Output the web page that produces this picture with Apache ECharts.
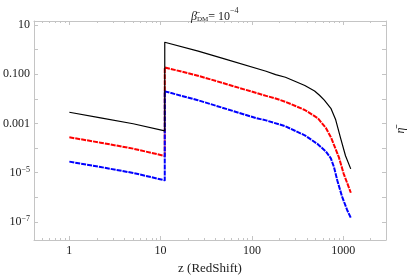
<!DOCTYPE html>
<html><head><meta charset="utf-8">
<script src="https://cdn.jsdelivr.net/npm/echarts@6/dist/echarts.min.js"></script>
<style>html,body{margin:0;padding:0;background:#fff}#c{width:415px;height:280px}</style>
</head><body><div id="c"></div>
<script>
// Black (solid) series
var zBlack = [1, 2.2, 5, 11.1, 11.1, 25.8, 49, 143, 182, 233, 300, 380, 486, 550, 621, 733, 828, 935, 1060, 1210];
var etaBlack = [2.84e-3, 1.69e-3, 9.7e-4, 4.98e-4, 1.97, 0.863, 0.43, 0.131, 0.0955, 0.0752, 0.0507, 0.0348, 0.0208, 0.0139, 0.00879, 0.00411, 0.0014, 2.62e-4, 4.89e-5, 1.43e-5];
// Red (dashed) series
var zRed = [1, 2.2, 5, 11.1, 11.1, 25.6, 143, 182, 233, 300, 380, 527, 590, 647, 738, 828, 898, 1014, 1213];
var etaRed = [2.74e-4, 1.66e-4, 9.5e-5, 4.8e-5, 0.188, 0.0871, 0.0132, 0.0103, 0.00759, 0.00512, 0.00352, 0.00164, 9.9e-4, 6.56e-4, 2.62e-4, 8.95e-5, 4.19e-5, 9.0e-6, 1.54e-6];
// Blue (dashed) series
var zBlue = [1, 2.2, 5, 11.1, 11.1, 25.6, 112, 143, 233, 300, 380, 527, 647, 733, 794, 861, 973, 1102, 1213];
var etaBlue = [2.82e-5, 1.70e-5, 9.8e-6, 4.93e-6, 0.0201, 0.00879, 0.00164, 0.00133, 7.67e-4, 4.93e-4, 3.30e-4, 1.44e-4, 7.26e-5, 3.82e-5, 1.67e-5, 4.93e-6, 1.07e-6, 3.15e-7, 1.46e-7];

var xMajor = [1, 10, 100, 1000];
var xMinor = [0.5, 0.6, 0.7, 0.8, 0.9, 2, 3, 4, 5, 6, 7, 8, 9, 20, 30, 40, 50, 60, 70, 80, 90, 200, 300, 400, 500, 600, 700, 800, 900, 2000];
var yLabelVals = [10, 0.1, 0.001, 1e-5, 1e-7];
var yLabelText = ['10', '0.100', '0.001', '10{sup|\u22125}', '10{sup|\u22127}'];
var yTicks = [10, 1, 0.1, 0.01, 0.001, 1e-4, 1e-5, 1e-6, 1e-7];

function pairs(xs, ys) { return xs.map(function (x, i) { return [x, ys[i]]; }); }

var FONT = 'Liberation Serif';
var FRAME = '#c4c4c4';
var X_MIN = 0.41, X_MAX = 2945, Y_MIN = 1.86e-8, Y_MAX = 14.4;

function xAx(pos, minor, labels) {
  return {
    type: 'log', position: pos, min: X_MIN, max: X_MAX,
    axisLine: { show: !minor, lineStyle: { color: FRAME, width: 1 } },
    axisTick: { show: true, inside: true, length: minor ? 2 : 4, customValues: minor ? xMinor : xMajor, lineStyle: { color: FRAME } },
    axisLabel: labels ? { show: true, customValues: xMajor, color: '#222', fontFamily: FONT, fontSize: 12, margin: 5, formatter: function (v) { return String(Math.round(v)); } } : { show: false },
    splitLine: { show: false },
    minorTick: { show: false }
  };
}

function lineSeries(name, xs, ys, color, width, dash, z) {
  return { type: 'line', name: name, data: pairs(xs, ys), showSymbol: false, symbol: 'none',
    lineStyle: { color: color, width: width, type: dash, join: 'round' }, z: z };
}

var option = {
  animation: false,
  backgroundColor: '#fff',
  title: {
    text: '{b|\u03B2\u0304}{s|DM}{n|= 10}{p|\u22124}',
    left: 186, top: 2,
    textStyle: {
      fontWeight: 'normal',
      rich: {
        b: { fontFamily: FONT, fontStyle: 'italic', fontWeight: 'normal', fontSize: 12, color: '#222', verticalAlign: 'bottom', lineHeight: 16 },
        s: { fontFamily: FONT, fontWeight: 'normal', fontSize: 7, color: '#222', verticalAlign: 'bottom', lineHeight: 16 },
        n: { fontFamily: FONT, fontWeight: 'normal', fontSize: 12, color: '#222', verticalAlign: 'bottom', lineHeight: 16 },
        p: { fontFamily: FONT, fontWeight: 'normal', fontSize: 8, color: '#222', verticalAlign: 'top', lineHeight: 16 }
      }
    }
  },
  grid: { left: 31, right: 22, top: 21, bottom: 36 },
  xAxis: [
    Object.assign(xAx('bottom', false, true), {
      name: 'z (RedShift)', nameLocation: 'middle', nameGap: 22,
      nameTextStyle: { fontFamily: FONT, fontSize: 13, color: '#222' }
    }),
    xAx('bottom', true, false),
    xAx('top', false, false),
    xAx('top', true, false)
  ],
  yAxis: [
    {
      type: 'log', position: 'left', min: Y_MIN, max: Y_MAX,
      axisLine: { show: true, lineStyle: { color: FRAME } },
      axisTick: { show: true, inside: true, length: 4, customValues: yTicks, lineStyle: { color: FRAME } },
      axisLabel: {
        show: true, customValues: yLabelVals, color: '#222', fontFamily: FONT, fontSize: 12, margin: 4,
        formatter: function (v) {
          var e = Math.round(Math.log10(v));
          var i = yLabelVals.findIndex(function (t) { return Math.round(Math.log10(t)) === e; });
          return i >= 0 ? yLabelText[i] : '';
        },
        rich: { sup: { fontFamily: FONT, fontSize: 8, color: '#222', verticalAlign: 'top', lineHeight: 14 } }
      },
      splitLine: { show: false }
    },
    {
      type: 'log', position: 'right', min: Y_MIN, max: Y_MAX,
      axisLine: { show: true, lineStyle: { color: FRAME } },
      axisTick: { show: true, inside: true, length: 4, customValues: yTicks, lineStyle: { color: FRAME } },
      axisLabel: { show: false },
      splitLine: { show: false },
      name: '\u03B7\u0304', nameLocation: 'middle', nameGap: 9, nameRotate: 90,
      nameTextStyle: { fontFamily: FONT, fontStyle: 'italic', fontSize: 12, color: '#222' }
    }
  ],
  series: [
    lineSeries('black', zBlack, etaBlack, '#000', 1.2, 'solid', 3),
    lineSeries('red', zRed, etaRed, '#ff0000', 2, [5, 1], 2),
    lineSeries('blue', zBlue, etaBlue, '#0000ff', 2, [5, 1], 2)
  ]
};
var chart = echarts.init(document.getElementById('c'), null, { renderer: 'canvas' });
chart.setOption(option);
</script></body></html>
